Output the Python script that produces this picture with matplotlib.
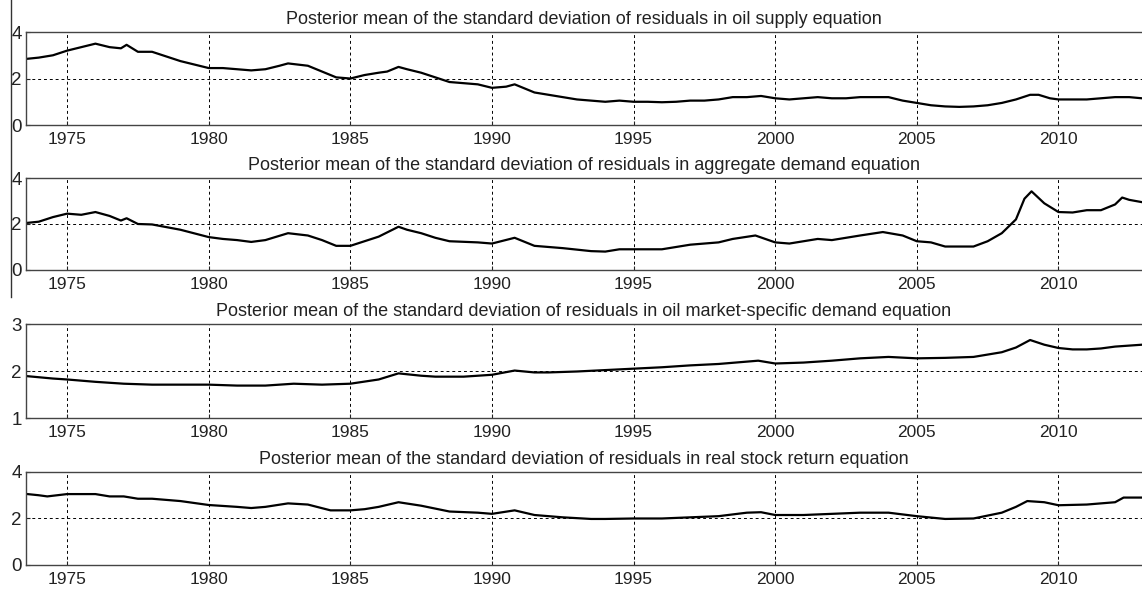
import matplotlib
matplotlib.use("Agg")
import matplotlib.pyplot as plt
from matplotlib.lines import Line2D

plt.rcParams['font.family'] = ['Liberation Sans', 'DejaVu Sans']

# time points (years) and values
t_supply = [1973.6, 1974.0, 1974.5, 1975.0, 1975.5, 1976.0, 1976.5, 1976.9, 1977.1, 1977.5,
            1978.0, 1978.5, 1979.0, 1979.5, 1980.0, 1980.5, 1981.0, 1981.5, 1982.0, 1982.5,
            1982.8, 1983.5, 1984.0, 1984.5, 1985.0, 1985.5, 1986.0, 1986.3, 1986.7, 1987.0,
            1987.5, 1988.0, 1988.5, 1989.0, 1989.5, 1990.0, 1990.5, 1990.8, 1991.2, 1991.5,
            1992.0, 1992.5, 1993.0, 1993.5, 1994.0, 1994.5, 1995.0, 1995.5, 1996.0, 1996.5,
            1997.0, 1997.5, 1998.0, 1998.5, 1999.0, 1999.5, 2000.0, 2000.5, 2001.0, 2001.5,
            2002.0, 2002.5, 2003.0, 2003.5, 2004.0, 2004.5, 2005.0, 2005.5, 2006.0, 2006.5,
            2007.0, 2007.5, 2008.0, 2008.5, 2009.0, 2009.3, 2009.7, 2010.0, 2010.5, 2011.0,
            2011.5, 2012.0, 2012.5, 2012.95]
oil_supply = [2.85, 2.9, 3.0, 3.2, 3.35, 3.5, 3.35, 3.3, 3.45, 3.15,
              3.15, 2.95, 2.75, 2.6, 2.45, 2.45, 2.4, 2.35, 2.4, 2.55,
              2.65, 2.55, 2.3, 2.05, 2.0, 2.15, 2.25, 2.3, 2.5, 2.4,
              2.25, 2.05, 1.85, 1.8, 1.75, 1.6, 1.65, 1.75, 1.55, 1.4,
              1.3, 1.2, 1.1, 1.05, 1.0, 1.05, 1.0, 1.0, 0.98, 1.0,
              1.05, 1.05, 1.1, 1.2, 1.2, 1.25, 1.15, 1.1, 1.15, 1.2,
              1.15, 1.15, 1.2, 1.2, 1.2, 1.05, 0.95, 0.85, 0.8, 0.78,
              0.8, 0.85, 0.95, 1.1, 1.3, 1.3, 1.15, 1.1, 1.1, 1.1,
              1.15, 1.2, 1.2, 1.15]

t_demand = [1973.6, 1974.0, 1974.5, 1975.0, 1975.5, 1976.0, 1976.5, 1976.9, 1977.1, 1977.5,
            1978.0, 1979.0, 1980.0, 1980.5, 1981.0, 1981.5, 1982.0, 1982.8, 1983.5, 1984.0,
            1984.5, 1985.0, 1985.5, 1986.0, 1986.7, 1987.0, 1987.5, 1988.0, 1988.5, 1989.5,
            1990.0, 1990.8, 1991.5, 1992.5, 1993.5, 1994.0, 1994.5, 1995.0, 1996.0, 1996.5,
            1997.0, 1998.0, 1998.5, 1999.3, 2000.0, 2000.5, 2001.5, 2002.0, 2003.0, 2003.8,
            2004.5, 2005.0, 2005.5, 2006.0, 2007.0, 2007.5, 2008.0, 2008.5, 2008.8, 2009.05,
            2009.5, 2010.0, 2010.5, 2011.0, 2011.5, 2012.0, 2012.25, 2012.5, 2012.95]
agg_demand = [2.05, 2.1, 2.3, 2.45, 2.4, 2.52, 2.35, 2.15, 2.25, 2.0,
              1.98, 1.75, 1.43, 1.35, 1.3, 1.22, 1.3, 1.6, 1.5, 1.3,
              1.05, 1.05, 1.25, 1.45, 1.88, 1.75, 1.6, 1.4, 1.25, 1.2,
              1.15, 1.4, 1.05, 0.95, 0.82, 0.8, 0.9, 0.9, 0.9, 1.0,
              1.1, 1.2, 1.35, 1.5, 1.2, 1.15, 1.35, 1.3, 1.5, 1.65,
              1.5, 1.25, 1.2, 1.02, 1.02, 1.25, 1.6, 2.2, 3.1, 3.42,
              2.9, 2.52, 2.5, 2.6, 2.6, 2.85, 3.15, 3.05, 2.95]

t_specific = [1973.6, 1974.5, 1975.0, 1976.0, 1977.0, 1978.0, 1980.0, 1981.0, 1982.0, 1983.0,
              1984.0, 1985.0, 1986.0, 1986.7, 1987.5, 1988.0, 1989.0, 1990.0, 1990.8, 1991.5,
              1992.0, 1993.0, 1994.0, 1995.0, 1996.0, 1997.0, 1998.0, 1999.0, 1999.4, 2000.0,
              2001.0, 2002.0, 2003.0, 2004.0, 2005.0, 2006.0, 2007.0, 2007.5, 2008.0, 2008.5,
              2009.0, 2009.5, 2010.0, 2010.5, 2011.0, 2011.5, 2012.0, 2012.95]
oil_specific = [1.89, 1.84, 1.82, 1.77, 1.73, 1.71, 1.71, 1.69, 1.69, 1.73,
                1.71, 1.73, 1.82, 1.95, 1.9, 1.88, 1.88, 1.92, 2.01, 1.97,
                1.97, 1.99, 2.02, 2.05, 2.08, 2.12, 2.15, 2.2, 2.22, 2.16,
                2.18, 2.22, 2.27, 2.3, 2.27, 2.28, 2.3, 2.35, 2.4, 2.5,
                2.66, 2.56, 2.49, 2.46, 2.46, 2.48, 2.52, 2.56]

t_stock = [1973.6, 1974.0, 1974.3, 1975.0, 1976.0, 1976.5, 1977.0, 1977.5, 1978.0, 1979.0,
           1980.0, 1981.0, 1981.5, 1982.0, 1982.8, 1983.5, 1984.3, 1985.0, 1985.5, 1986.0,
           1986.7, 1987.5, 1988.5, 1989.5, 1990.0, 1990.8, 1991.5, 1992.5, 1993.5, 1994.0,
           1995.0, 1996.0, 1997.0, 1998.0, 1999.0, 1999.5, 2000.0, 2001.0, 2002.0, 2003.0,
           2004.0, 2005.0, 2006.0, 2007.0, 2008.0, 2008.5, 2008.9, 2009.5, 2010.0, 2011.0,
           2012.0, 2012.3, 2012.95]
real_stock = [3.05, 3.0, 2.95, 3.05, 3.05, 2.95, 2.95, 2.85, 2.85, 2.75,
              2.58, 2.5, 2.45, 2.5, 2.65, 2.6, 2.35, 2.35, 2.4, 2.5,
              2.7, 2.55, 2.3, 2.25, 2.2, 2.35, 2.15, 2.05, 1.98, 1.98,
              2.0, 2.0, 2.05, 2.1, 2.25, 2.27, 2.15, 2.15, 2.2, 2.25,
              2.25, 2.1, 1.98, 2.0, 2.25, 2.5, 2.75, 2.7, 2.57, 2.6,
              2.7, 2.9, 2.9]

titles = ["Posterior mean of the standard deviation of residuals in oil supply equation",
          "Posterior mean of the standard deviation of residuals in aggregate demand equation",
          "Posterior mean of the standard deviation of residuals in oil market-specific demand equation",
          "Posterior mean of the standard deviation of residuals in real stock return equation"]
yticks = [[0, 2, 4], [0, 2, 4], [1, 2, 3], [0, 2, 4]]
xticks = [1975, 1980, 1985, 1990, 1995, 2000, 2005, 2010]

series = [(t_supply, oil_supply), (t_demand, agg_demand),
          (t_specific, oil_specific), (t_stock, real_stock)]

# axes boxes in figure fractions (left, bottom, width, height)
boxes = [(0.0228, 0.7881, 0.9772, 0.1576),
         (0.0228, 0.5424, 0.9772, 0.1559),
         (0.0228, 0.2915, 0.9772, 0.1593),
         (0.0228, 0.0424, 0.9772, 0.1576)]

fig = plt.figure(figsize=(11.42, 5.90), dpi=100)

for i in range(4):
    ax = fig.add_axes(boxes[i])
    t, v = series[i]
    ax.plot(t, v, color='black', lw=1.6)
    ax.set_xlim(1973.55, 2012.95)
    ax.set_ylim(yticks[i][0], yticks[i][-1])
    ax.set_xticks(xticks)
    ax.set_yticks(yticks[i])
    ax.grid(True, color='black', linestyle=(0, (3, 3)), lw=0.7)
    ax.tick_params(direction='in', length=3, colors='#222222')
    ax.tick_params(axis='x', labelsize=12.5, pad=5)
    ax.tick_params(axis='y', labelsize=13.5, pad=3)
    ax.spines['right'].set_visible(False)
    for s in ['left', 'top', 'bottom']:
        ax.spines[s].set_color('#444444')
        ax.spines[s].set_linewidth(1.0)
    ax.set_title(titles[i], fontsize=13, pad=6, color='#222222')

# thin vertical line on the left edge of the scan
fig.add_artist(Line2D([11 / 1142, 11 / 1142], [1.0, 1 - 297 / 590],
                      transform=fig.transFigure, color='#333333', lw=1.0))

fig.savefig('out.png', dpi=100)
